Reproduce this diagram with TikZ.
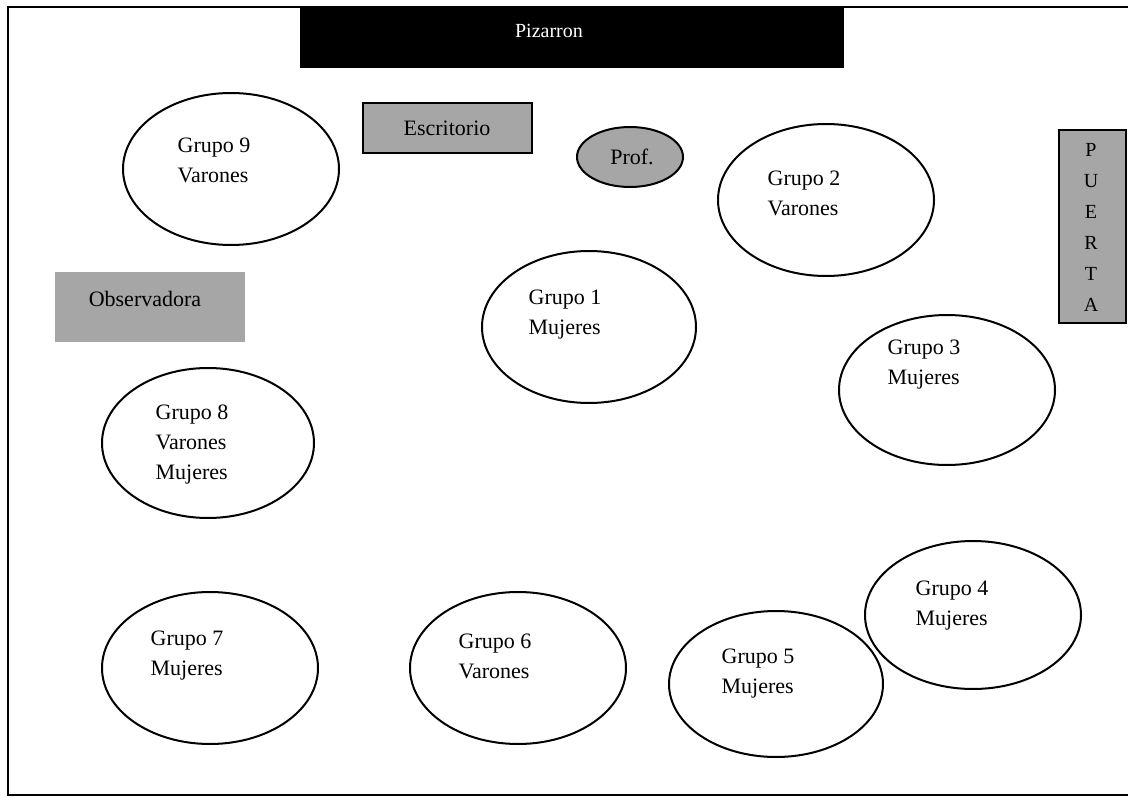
\documentclass[tikz,border=0pt]{standalone}
\usepackage{fontspec}
\setmainfont{Liberation Serif}
\tikzset{
  mesa/.style={line width=2pt},
  rotulo/.style={align=left, inner sep=0pt, font=\fontsize{22}{30}\selectfont},
  sombra/.style={fill=black!35},
}
\begin{document}
\begin{tikzpicture}[x=1pt, y=-1pt]
    \useasboundingbox (0,0) rectangle (1128,797);
    % Frame
    \draw[line width=2pt] (1128,7) -- (8,7) -- (8,795) -- (1128,795);

    % Pizarron
    \fill (300,6) rectangle (844,68);
    \node[rotulo, text=white, font=\fontsize{20}{24}\selectfont] (pizarron) at (549,31) {Pizarron};

    % Escritorio, Prof, Puerta, Observadora
    \draw[sombra, line width=1.5pt] (363,103) rectangle (532,153);
    \node[rotulo] (escritorio) at (447,128) {Escritorio};
    \draw[sombra, line width=2pt] (630,157) ellipse (53 and 30);
    \node[rotulo] (prof) at (632,157) {Prof.};
    \draw[sombra, line width=2pt] (1059,130) rectangle (1126,323);
    \node[rotulo, align=center, font=\fontsize{20}{31}\selectfont] (puerta) at (1091,227) {P\\U\\E\\R\\T\\A};
    \fill[sombra] (55,272) rectangle (245,342);
    \node[rotulo] (observadora) at (145,299) {Observadora};

    % Grupos
    \draw[mesa] (231,169) ellipse (108 and 76);
    \node[rotulo] (g9) at (214,160) {Grupo 9\\Varones};
    \draw[mesa] (826,200) ellipse (108 and 76);
    \node[rotulo] (g2) at (804,193) {Grupo 2\\Varones};
    \draw[mesa] (589,327) ellipse (107 and 76);
    \node[rotulo] (g1) at (565,315) {Grupo 1\\Mujeres};
    \draw[mesa] (947,390) ellipse (108 and 75);
    \node[rotulo] (g3) at (924,365) {Grupo 3\\Mujeres};
    \draw[mesa] (208,443) ellipse (106 and 75);
    \node[rotulo] (g8) at (192,445) {Grupo 8\\Varones\\Mujeres};
    \draw[mesa] (973,615) ellipse (108 and 74);
    \node[rotulo] (g4) at (952,606) {Grupo 4\\Mujeres};
    \draw[mesa] (210,668) ellipse (108 and 76);
    \node[rotulo] (g7) at (187,656) {Grupo 7\\Mujeres};
    \draw[mesa] (518,668) ellipse (108 and 76);
    \node[rotulo] (g6) at (495,656) {Grupo 6\\Varones};
    \draw[mesa] (776,684) ellipse (107 and 73);
    \node[rotulo] (g5) at (758,674) {Grupo 5\\Mujeres};
\end{tikzpicture}
\end{document}
